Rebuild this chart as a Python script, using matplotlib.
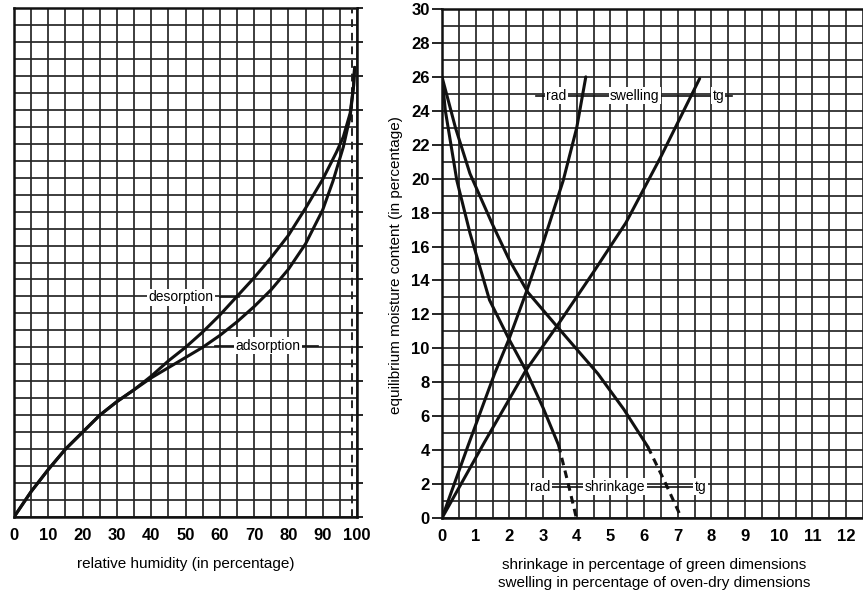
import matplotlib
matplotlib.use("Agg")
import matplotlib.pyplot as plt
import numpy as np

plt.rcParams['font.family'] = ['Liberation Sans', 'DejaVu Sans']

# ---------------- data ----------------
# left panel: sorption isotherms
rh_desorption = [0, 5, 10, 15, 20, 25, 30, 35, 40, 45, 50, 55, 60, 65, 70, 75, 80, 85, 90, 94, 96, 98, 99, 99.3]
mc_desorption = [0, 1.5, 2.8, 4.0, 5.0, 6.0, 6.8, 7.5, 8.3, 9.2, 10.0, 10.9, 11.9, 13.0, 14.1, 15.3, 16.6, 18.2, 19.9, 21.5, 22.4, 23.8, 25.4, 26.5]
rh_adsorption = [0, 5, 10, 15, 20, 25, 30, 35, 40, 45, 50, 55, 60, 65, 70, 75, 80, 85, 90, 93, 96, 98, 99, 99.3]
mc_adsorption = [0, 1.5, 2.8, 4.0, 5.0, 6.0, 6.8, 7.5, 8.2, 8.8, 9.4, 10.0, 10.7, 11.5, 12.4, 13.4, 14.6, 16.1, 18.1, 19.8, 21.8, 23.6, 25.4, 26.5]
rh_limit = 98.6

# right panel: shrinkage (from green) and swelling (from oven-dry)
rad_shrink_x = [0, 0.1, 0.44, 0.83, 1.41, 2.0, 2.49, 3.0, 3.46]
rad_shrink_mc = [26, 24.0, 19.9, 16.8, 12.85, 10.5, 8.7, 6.5, 4.3]
rad_shrink_ext_x = [3.46, 3.75, 3.99]
rad_shrink_ext_mc = [4.3, 2.0, 0]

tg_shrink_x = [0, 0.4, 0.83, 1.5, 2.0, 2.55, 3.41, 4.63, 5.4, 6.11]
tg_shrink_mc = [26, 23.0, 20.3, 17.3, 15.2, 13.3, 11.3, 8.5, 6.4, 4.2]
tg_shrink_ext_x = [6.11, 6.6, 7.11]
tg_shrink_ext_mc = [4.2, 2.2, 0]

rad_swell_x = [0, 0.78, 1.56, 2.0, 2.5, 3.0, 3.6, 4.0, 4.27]
rad_swell_mc = [0, 4.3, 8.5, 10.6, 13.3, 16.2, 19.9, 23.0, 26]
tg_swell_x = [0, 1.27, 2.49, 3.41, 4.5, 5.46, 6.5, 7.65]
tg_swell_mc = [0, 4.5, 8.7, 11.3, 14.5, 17.4, 21.3, 25.9]

left_xticks = [0, 10, 20, 30, 40, 50, 60, 70, 80, 90, 100]
right_xticks = [0, 1, 2, 3, 4, 5, 6, 7, 8, 9, 10, 11, 12]
yticks = [0, 2, 4, 6, 8, 10, 12, 14, 16, 18, 20, 22, 24, 26, 28, 30]

# ---------------- figure ----------------
W, H = 863, 604
fig = plt.figure(figsize=(W / 100, H / 100), dpi=100)
fig.patch.set_facecolor('white')

def frac(x0, y0, x1, y1):
    return [x0 / W, 1 - y1 / H, (x1 - x0) / W, (y1 - y0) / H]

axL = fig.add_axes(frac(14, 8, 357, 517))
axR = fig.add_axes(frac(442, 9, 863 + 0, 518))

grid_kw = dict(color='#262626', linewidth=1.25)
curve_kw = dict(color='#111111', linewidth=2.2, solid_capstyle='round', zorder=5)
tick_font = dict(fontsize=12, fontweight='bold')

# ----- left panel -----
axL.set_xlim(0, 100)
axL.set_ylim(0, 30)
axL.set_xticks(left_xticks)
axL.set_xticks(np.arange(0, 101, 5), minor=True)
axL.set_yticks(yticks)
axL.set_yticks(np.arange(0, 31, 1), minor=True)
axL.grid(True, which='both', **grid_kw)
axL.set_axisbelow(True)
axL.tick_params(axis='x', which='both', length=0, pad=8)
axL.set_xticklabels([str(t) for t in left_xticks], **tick_font)
axL.tick_params(axis='y', which='major', left=False, labelleft=False,
                right=True, direction='out', length=4.5, width=1.2)
axL.tick_params(axis='y', which='minor', left=False, right=False)
for s in axL.spines.values():
    s.set_linewidth(1.8)
    s.set_color('#111111')

axL.plot(rh_desorption, mc_desorption, **curve_kw)
axL.plot(rh_adsorption, mc_adsorption, **curve_kw)
axL.plot([rh_limit, rh_limit], [0, 30], color='#222222', linewidth=1.4,
         linestyle=(0, (4, 3)), zorder=4)

axL.plot([60.0, 65.6], [12.95, 12.95], color='#111111', lw=1.2, zorder=6)
axL.text(48.7, 12.95, 'desorption', ha='center', va='center', fontsize=10, zorder=7,
         bbox=dict(facecolor='white', edgecolor='none', pad=1.0))
axL.plot([58.5, 88.5], [10.1, 10.1], color='#111111', lw=1.2, zorder=6)
axL.text(74.1, 10.1, 'adsorption', ha='center', va='center', fontsize=10, zorder=7,
         bbox=dict(facecolor='white', edgecolor='none', pad=1.0))

axL.set_xlabel('relative humidity (in percentage)', fontsize=11, labelpad=10)

# ----- right panel -----
xmax = (863 - 442) / 34.2
axR.set_xlim(0, xmax)
axR.set_ylim(0, 30)
axR.set_xticks(right_xticks)
axR.set_xticks(np.arange(0, 12.6, 0.5), minor=True)
axR.set_yticks(yticks)
axR.set_yticks(np.arange(0, 31, 1), minor=True)
axR.grid(True, which='both', **grid_kw)
axR.set_axisbelow(True)
axR.tick_params(axis='x', which='both', length=0, pad=8)
axR.set_xticklabels([str(t) for t in right_xticks], **tick_font)
axR.tick_params(axis='y', which='major', direction='out', length=7, width=1.2, pad=2)
axR.tick_params(axis='y', which='minor', length=0)
axR.set_yticklabels([str(t) for t in yticks], **tick_font)
for s in axR.spines.values():
    s.set_linewidth(1.8)
    s.set_color('#111111')
axR.spines['right'].set_visible(False)

axR.plot(rad_shrink_x, rad_shrink_mc, **curve_kw)
axR.plot(rad_shrink_ext_x, rad_shrink_ext_mc, color='#111111', linewidth=2.2,
         linestyle=(0, (2.5, 1.8)), zorder=5)
axR.plot(tg_shrink_x, tg_shrink_mc, **curve_kw)
axR.plot(tg_shrink_ext_x, tg_shrink_ext_mc, color='#111111', linewidth=2.2,
         linestyle=(0, (2.5, 1.8)), zorder=5)
axR.plot(rad_swell_x, rad_swell_mc, **curve_kw)
axR.plot(tg_swell_x, tg_swell_mc, **curve_kw)

# swelling labels (top)
axR.plot([2.8, 8.6], [24.9, 24.9], color='#111111', lw=1.2, zorder=4)
for x, t in [(3.39, 'rad'), (5.72, 'swelling'), (8.2, 'tg')]:
    axR.text(x, 24.9, t, ha='center', va='center', fontsize=10, zorder=7,
             bbox=dict(facecolor='white', edgecolor='none', pad=1.0))
# shrinkage labels (bottom)
axR.plot([3.2, 7.45], [1.85, 1.85], color='#111111', lw=1.2, zorder=4)
for x, t in [(2.92, 'rad'), (5.14, 'shrinkage'), (7.67, 'tg')]:
    axR.text(x, 1.85, t, ha='center', va='center', fontsize=10, zorder=7,
             bbox=dict(facecolor='white', edgecolor='none', pad=1.0))

fig.text(654 / W, 1 - 565 / H, 'shrinkage in percentage of green dimensions',
         ha='center', va='center', fontsize=11)
fig.text(654 / W, 1 - 583 / H, 'swelling in percentage of oven-dry dimensions',
         ha='center', va='center', fontsize=11)
fig.text(396 / W, 1 - 265 / H, 'equilibrium moisture content (in percentage)',
         ha='center', va='center', rotation=90, fontsize=11)

fig.savefig('out.png', dpi=100, facecolor='white')
